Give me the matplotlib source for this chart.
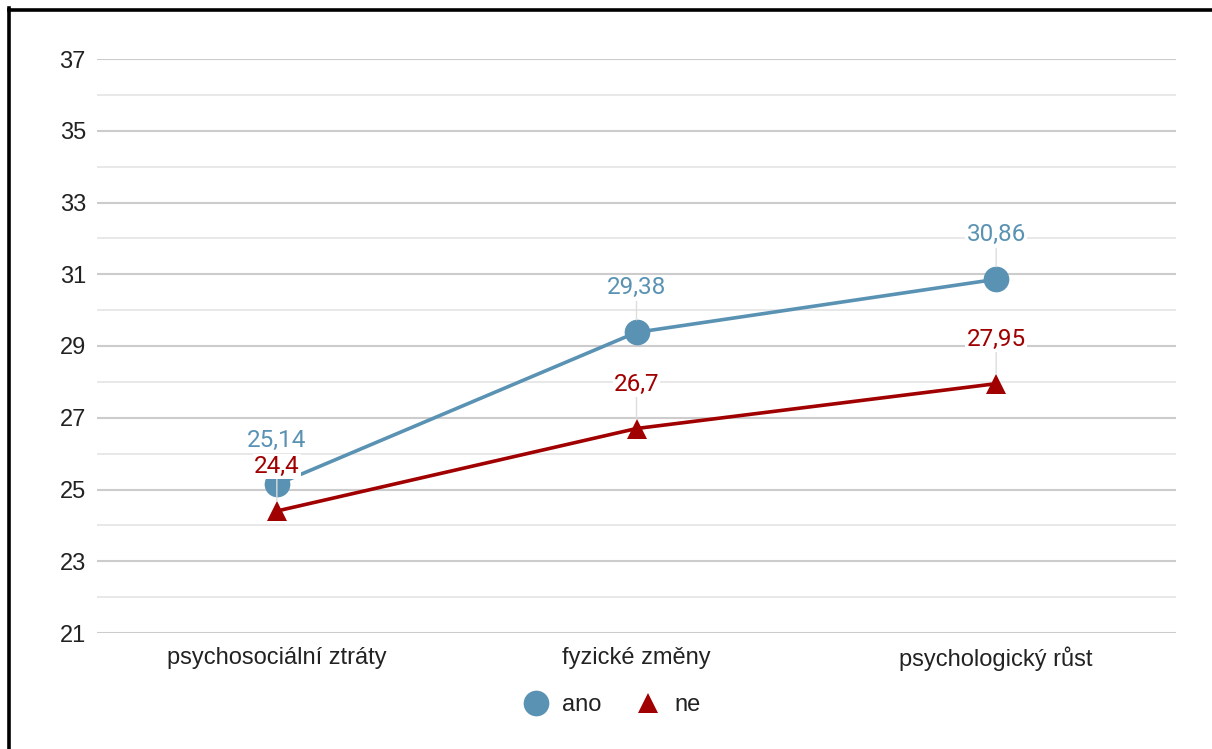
import matplotlib
matplotlib.use("Agg")
import matplotlib.pyplot as plt
from matplotlib.lines import Line2D

categories = ["psychosociální ztráty", "fyzické změny", "psychologický růst"]
series_names = ["ano", "ne"]
ano_values = [25.14, 29.38, 30.86]
ne_values = [24.4, 26.7, 27.95]
ano_labels = ["25,14", "29,38", "30,86"]
ne_labels = ["24,4", "26,7", "27,95"]
y_major = [21, 23, 25, 27, 29, 31, 33, 35, 37]
y_minor = [22, 24, 26, 28, 30, 32, 34, 36]

BLUE = "#5a92b4"
RED = "#a00000"
TEXT = "#222222"

W, H = 1212, 749
fig = plt.figure(figsize=(W / 100, H / 100), dpi=100)
fig.patch.set_facecolor("white")

ax = fig.add_axes([97 / W, 1 - 633 / H, (1176 - 97) / W, (633 - 59) / H])
ax.set_xlim(-0.5, len(categories) - 0.5)
ax.set_ylim(21, 37)

for s in ax.spines.values():
    s.set_visible(False)

for v in y_minor:
    ax.axhline(v, color="#e6e6e6", lw=1.3, zorder=0)
for v in y_major:
    ax.axhline(v, color="#cccccc", lw=1.5, zorder=0)

ax.set_yticks(y_major)
ax.set_yticklabels([str(v) for v in y_major], fontfamily="Liberation Sans",
                   fontsize=17, color=TEXT)
ax.set_xticks(range(len(categories)))
ax.set_xticklabels(categories, fontfamily="Liberation Sans", fontsize=17, color=TEXT)
ax.tick_params(axis="both", length=0)
ax.tick_params(axis="y", pad=8)
ax.tick_params(axis="x", pad=10)

x = list(range(len(categories)))
ax.plot(x, ano_values, color=BLUE, lw=2.6, marker="o", markersize=18.5,
        markeredgewidth=0, zorder=4, label=series_names[0])
ax.plot(x, ne_values, color=RED, lw=2.6, marker="^", markersize=15,
        markeredgewidth=0, zorder=3, label=series_names[1])

def add_labels(values, labels, color, gap):
    for xi, v, lab in zip(x, values, labels):
        ax.annotate(lab, xy=(xi, v), xytext=(0, 32), textcoords="offset points",
                    ha="center", va="center", fontfamily="Roboto", fontsize=17.5,
                    color=color, zorder=5,
                    bbox=dict(boxstyle="square,pad=0.05", fc="white", ec="none"),
                    arrowprops=dict(arrowstyle="-", color="#dddddd", lw=1,
                                    shrinkA=0, shrinkB=gap))

add_labels(ano_values, ano_labels, BLUE, 9)
add_labels(ne_values, ne_labels, RED, 7.5)

leg = fig.legend(handles=[
    Line2D([], [], color=BLUE, marker="o", markersize=18.5, lw=0, markeredgewidth=0),
    Line2D([], [], color=RED, marker="^", markersize=15, lw=0, markeredgewidth=0)],
    labels=series_names, loc="center", bbox_to_anchor=(611 / W, 1 - 705 / H),
    ncol=2, frameon=False, prop={"family": "Liberation Sans", "size": 17},
    handletextpad=0.5, columnspacing=1.4, handlelength=1.2)
for t in leg.get_texts():
    t.set_color(TEXT)

# frame edges
fig.add_artist(Line2D([8.5 / W, 8.5 / W], [0, 1 - 8 / H], transform=fig.transFigure,
                      color="black", lw=2.6, solid_capstyle="projecting"))
fig.add_artist(Line2D([8.5 / W, 1], [1 - 9.5 / H, 1 - 9.5 / H], transform=fig.transFigure,
                      color="black", lw=2.6, solid_capstyle="projecting"))

fig.savefig("out.png", dpi=100, facecolor="white")
